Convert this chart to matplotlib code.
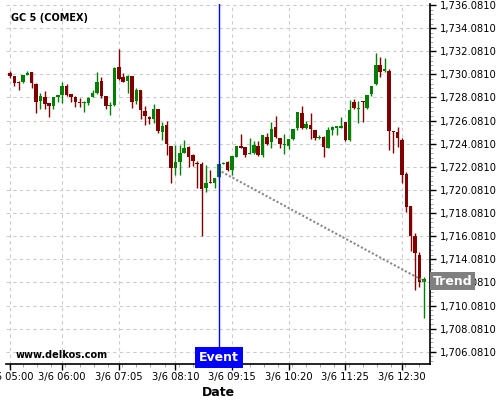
import numpy as np
import matplotlib
matplotlib.use("Agg")
import matplotlib.pyplot as plt
from matplotlib.ticker import FuncFormatter, AutoMinorLocator, FixedLocator
from matplotlib.transforms import blended_transform_factory

# 5-minute candles, 3/6 05:00 .. 12:55
opens = [
    1730.22, 1729.94, 1729.44, 1729.44, 1730.05, 1730.28, 1729.24, 1727.77, 1728.12, 1727.57,
    1727.37, 1728.12, 1728.27, 1729.07, 1728.38, 1728.15, 1727.71, 1727.57, 1727.63, 1728.15,
    1728.44, 1729.50, 1728.21, 1727.37, 1727.43, 1730.69, 1729.88, 1729.53, 1729.94, 1727.77,
    1728.72, 1726.93, 1726.41, 1726.22, 1727.08, 1725.12, 1725.70, 1723.88, 1722.00, 1722.52,
    1723.30, 1723.77, 1723.10, 1722.43, 1722.32, 1720.22, 1720.79, 1720.70, 1721.17, 1722.32,
    1722.52, 1721.80, 1722.95, 1723.88, 1723.77, 1723.19, 1723.25, 1723.88, 1723.10, 1724.63,
    1724.25, 1725.50, 1724.55, 1723.98, 1723.91, 1724.46, 1725.41, 1726.76, 1725.41, 1725.70,
    1725.26, 1724.55, 1724.69, 1723.73, 1725.26, 1725.41, 1725.45, 1725.98, 1724.40, 1727.71,
    1727.06, 1727.77, 1727.14, 1728.38, 1729.24, 1730.89, 1730.37, 1730.39, 1725.20, 1725.12,
    1724.40, 1721.45, 1718.69, 1716.09, 1714.45, 1712.14]
closes = [
    1729.94, 1729.36, 1729.36, 1730.02, 1730.22, 1729.30, 1727.71, 1728.21, 1727.54, 1727.37,
    1728.10, 1728.27, 1729.07, 1728.29, 1728.15, 1727.66, 1727.63, 1727.71, 1728.06, 1728.49,
    1729.42, 1728.23, 1727.37, 1727.43, 1730.60, 1729.68, 1729.44, 1729.94, 1727.71, 1728.72,
    1727.00, 1726.50, 1726.24, 1727.08, 1725.20, 1725.61, 1724.05, 1721.95, 1722.47, 1723.25,
    1723.68, 1722.95, 1722.61, 1722.38, 1720.16, 1720.65, 1720.70, 1721.08, 1722.32, 1722.43,
    1721.80, 1723.01, 1723.88, 1723.73, 1723.10, 1723.25, 1723.97, 1723.10, 1724.83, 1724.05,
    1725.32, 1724.63, 1724.05, 1724.03, 1724.46, 1725.32, 1726.80, 1725.41, 1725.78, 1725.32,
    1724.55, 1724.69, 1723.82, 1725.26, 1725.55, 1725.61, 1725.61, 1724.40, 1727.00, 1727.14,
    1727.11, 1727.69, 1728.29, 1729.07, 1730.89, 1730.31, 1730.52, 1725.20, 1725.12, 1724.55,
    1721.37, 1718.63, 1716.09, 1714.59, 1712.14, 1712.35]
highs = [
    1730.39, 1729.96, 1729.50, 1730.05, 1730.37, 1730.30, 1729.30, 1728.44, 1728.60, 1727.60,
    1728.15, 1728.30, 1729.44, 1729.22, 1728.40, 1728.20, 1728.06, 1727.75, 1728.10, 1728.72,
    1730.28, 1729.83, 1728.25, 1727.71, 1730.72, 1732.25, 1730.22, 1730.00, 1729.96, 1728.87,
    1728.75, 1727.37, 1726.45, 1727.49, 1727.10, 1725.98, 1726.04, 1723.90, 1723.97, 1723.97,
    1724.40, 1723.85, 1723.15, 1722.61, 1722.50, 1722.24, 1721.80, 1721.10, 1722.41, 1722.50,
    1722.55, 1723.05, 1723.90, 1724.92, 1723.80, 1724.55, 1724.31, 1724.28, 1724.85, 1725.03,
    1725.93, 1726.48, 1724.60, 1724.92, 1724.50, 1725.35, 1726.85, 1727.37, 1726.04, 1726.71,
    1725.30, 1724.83, 1724.75, 1725.52, 1725.60, 1725.65, 1726.41, 1726.00, 1727.86, 1727.92,
    1727.77, 1727.80, 1728.30, 1729.10, 1731.90, 1731.61, 1731.52, 1730.52, 1725.20, 1725.50,
    1724.55, 1721.60, 1718.70, 1716.35, 1714.70, 1712.57]
lows = [
    1729.80, 1729.07, 1728.72, 1729.36, 1730.00, 1728.87, 1726.71, 1727.06, 1727.06, 1726.36,
    1727.06, 1727.68, 1727.57, 1728.25, 1727.68, 1727.28, 1727.28, 1726.80, 1727.43, 1728.10,
    1728.40, 1728.00, 1727.06, 1726.56, 1727.35, 1729.60, 1729.40, 1728.44, 1727.14, 1727.49,
    1726.19, 1725.70, 1725.78, 1725.84, 1725.03, 1724.40, 1723.10, 1720.65, 1721.37, 1721.37,
    1723.25, 1722.09, 1722.15, 1720.22, 1716.09, 1719.93, 1720.65, 1720.22, 1721.10, 1722.30,
    1721.75, 1721.37, 1722.90, 1723.70, 1722.95, 1723.15, 1723.20, 1723.05, 1722.95, 1724.00,
    1723.68, 1724.60, 1723.68, 1723.19, 1723.60, 1724.40, 1725.26, 1725.35, 1725.35, 1724.46,
    1724.40, 1724.50, 1722.90, 1723.70, 1724.83, 1724.83, 1725.40, 1724.35, 1724.35, 1727.10,
    1725.90, 1725.93, 1727.10, 1728.21, 1729.16, 1729.88, 1730.30, 1723.53, 1723.25, 1723.82,
    1720.65, 1718.19, 1714.82, 1711.42, 1711.70, 1708.97]

tick_pos = [0, 12, 25, 38, 51, 64, 77, 90]
tick_labels = ["3/6 05:00", "3/6 06:00", "3/6 07:05", "3/6 08:10",
               "3/6 09:15", "3/6 10:20", "3/6 11:25", "3/6 12:30"]
y_ticks = [1706.081 + 2 * k for k in range(16)]

event_x = 48
trend_x = [48.6, 95]
trend_y = [1721.65, 1712.2]

up_col = "#008000"
down_col = "#800000"

fig = plt.figure(figsize=(5, 4), dpi=100)
ax = fig.add_axes([0.012, 0.09, 0.8486, 0.90])

x = np.arange(len(opens))
o = np.array(opens)
c = np.array(closes)
cols = [up_col if cc >= oo else down_col for oo, cc in zip(o, c)]

# wicks then bodies
ax.vlines(x, lows, highs, colors=cols, linewidth=1, zorder=3)
body_h = np.where(np.abs(c - o) < 0.08, 0.08 * np.sign(c - o + 1e-9), c - o)
ax.bar(x, body_h, bottom=o, width=0.8, color=cols, linewidth=0, zorder=4)

# trend and event
ax.plot(trend_x, trend_y, color="#888888", linestyle=(0, (1, 1)), linewidth=1.5, zorder=5)
ax.axvline(event_x, color="#0000ff", linewidth=1, zorder=6)

ax.set_xlim(-0.9, 96.5)
ax.set_ylim(1705.02, 1736.17)

# axes look
for s in ["top", "left"]:
    ax.spines[s].set_visible(False)
ax.spines["bottom"].set_linewidth(1.2)
ax.spines["right"].set_linewidth(1.2)

ax.yaxis.tick_right()
ax.yaxis.set_major_locator(FixedLocator(y_ticks))
ax.yaxis.set_major_formatter(FuncFormatter(lambda v, p: f"{v:,.4f}"))
ax.yaxis.set_minor_locator(AutoMinorLocator(5))
ax.xaxis.set_major_locator(FixedLocator(tick_pos))
ax.set_xticklabels(tick_labels)
ax.xaxis.set_minor_locator(FixedLocator(np.arange(-0.25, 96.5, 3.25)))

ax.tick_params(axis="both", which="major", labelsize=7.2, length=4, width=1, pad=2)
ax.tick_params(axis="y", which="major", pad=3)
ax.tick_params(axis="both", which="minor", length=2, color="#999999")
ax.grid(True, which="major", color="#cccccc", linestyle=(0, (3, 3)), linewidth=0.8)
ax.set_axisbelow(True)

ax.set_xlabel("Date", fontsize=9, fontweight="bold", labelpad=3)

ax.text(0.012, 0.975, "GC 5 (COMEX)", transform=ax.transAxes,
        fontsize=7, fontweight="bold", va="top", ha="left")
ax.text(0.022, 0.012, "www.delkos.com", transform=ax.transAxes,
        fontsize=7, fontweight="bold", va="bottom", ha="left")

ax.text(event_x, 1705.02, "Event", color="white", fontsize=9, fontweight="bold",
        ha="center", va="bottom", zorder=10,
        bbox=dict(boxstyle="square,pad=0.3", facecolor="#0000ff", edgecolor="none"))

trans = blended_transform_factory(ax.transAxes, ax.transData)
ax.text(1.005, trend_y[-1], "Trend", transform=trans, color="white", fontsize=9,
        fontweight="bold", ha="left", va="center", zorder=10, clip_on=False,
        bbox=dict(boxstyle="square,pad=0.2", facecolor="#808080", edgecolor="none"))

fig.savefig("out.png", dpi=100)
